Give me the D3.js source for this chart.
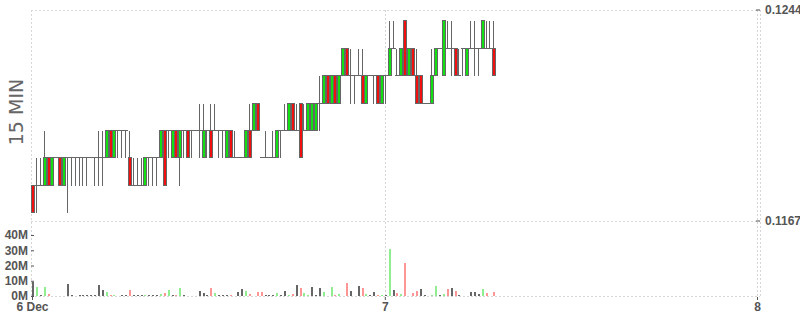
<!DOCTYPE html>
<html>
<head>
<meta charset="utf-8">
<script src="https://cdn.jsdelivr.net/npm/d3@7"></script>
<style>
    body { margin: 0; background: #fff; }
    svg { display: block; font-family: "DejaVu Sans", Verdana, sans-serif; }
</style>
</head>
<body>
<div class="chart"></div>
<script>
// 15 minute candles, first one at 6 Dec 01:15
const startTime = new Date(2021, 11, 6, 1, 15);
const endTime = new Date(2021, 11, 8, 0, 0);

const opens = [
    0.118,0.118,0.118,0.118,0.119,0.118,0.119,0.119,0.118,0.119,
    0.119,0.119,0.119,0.119,0.119,0.119,0.119,0.119,0.119,0.119,
    0.120,0.119,0.120,0.120,0.120,0.119,0.118,0.118,0.118,0.118,
    0.119,0.119,0.119,0.119,0.120,0.120,0.119,0.120,0.119,0.120,
    0.120,0.120,0.120,0.120,0.119,0.120,0.120,0.120,0.120,0.120,
    0.119,0.120,0.119,0.119,0.119,0.119,0.120,0.120,0.121,0.119,
    0.119,0.119,0.119,0.119,0.120,0.120,0.120,0.121,0.120,0.121,
    0.120,0.120,0.120,0.120,0.121,0.121,0.122,0.121,0.122,0.121,
    0.122,0.123,0.122,0.122,0.122,0.122,0.121,0.122,0.122,0.122,
    0.121,0.122,0.122,0.123,0.122,0.122,0.124,0.122,0.123,0.122,
    0.122,0.121,0.121,0.121,0.122,0.123,0.122,0.123,0.123,0.123,
    0.122,0.123,0.122,0.123,0.123,0.123,0.123,0.123,0.123,0.123
];
const highs = [
    0.118,0.119,0.119,0.120,0.119,0.119,0.119,0.119,0.119,0.119,
    0.119,0.119,0.119,0.119,0.119,0.119,0.119,0.120,0.120,0.120,
    0.120,0.120,0.120,0.120,0.120,0.120,0.119,0.119,0.119,0.119,
    0.119,0.119,0.119,0.120,0.120,0.120,0.120,0.120,0.120,0.120,
    0.120,0.120,0.120,0.121,0.121,0.120,0.121,0.121,0.120,0.120,
    0.120,0.120,0.120,0.119,0.119,0.120,0.121,0.121,0.121,0.119,
    0.120,0.119,0.120,0.120,0.120,0.121,0.121,0.121,0.121,0.121,
    0.121,0.121,0.121,0.121,0.122,0.122,0.122,0.122,0.122,0.122,
    0.123,0.123,0.123,0.122,0.123,0.123,0.122,0.122,0.122,0.122,
    0.122,0.122,0.124,0.124,0.123,0.123,0.124,0.123,0.123,0.123,
    0.122,0.121,0.121,0.123,0.123,0.123,0.124,0.124,0.124,0.123,
    0.123,0.123,0.123,0.124,0.124,0.123,0.124,0.124,0.124,0.124
];
const lows = [
    0.117,0.117,0.118,0.118,0.118,0.118,0.119,0.118,0.118,0.117,
    0.118,0.118,0.118,0.118,0.118,0.119,0.118,0.118,0.118,0.119,
    0.119,0.119,0.119,0.119,0.119,0.118,0.118,0.118,0.118,0.118,
    0.118,0.118,0.118,0.119,0.118,0.119,0.119,0.119,0.118,0.119,
    0.119,0.119,0.120,0.119,0.119,0.119,0.119,0.120,0.119,0.119,
    0.119,0.119,0.119,0.119,0.119,0.119,0.119,0.120,0.120,0.119,
    0.119,0.119,0.119,0.119,0.119,0.120,0.120,0.120,0.120,0.119,
    0.120,0.120,0.120,0.120,0.120,0.121,0.121,0.121,0.121,0.121,
    0.122,0.122,0.121,0.121,0.122,0.121,0.121,0.122,0.121,0.121,
    0.121,0.121,0.122,0.123,0.122,0.122,0.122,0.122,0.122,0.121,
    0.121,0.121,0.121,0.121,0.122,0.123,0.122,0.123,0.122,0.122,
    0.122,0.122,0.122,0.123,0.122,0.122,0.123,0.123,0.123,0.122
];
const closes = [
    0.117,0.118,0.118,0.119,0.118,0.119,0.119,0.118,0.119,0.119,
    0.119,0.119,0.119,0.119,0.119,0.119,0.119,0.119,0.119,0.120,
    0.119,0.120,0.120,0.120,0.120,0.118,0.118,0.118,0.118,0.119,
    0.119,0.119,0.119,0.120,0.118,0.120,0.120,0.119,0.120,0.120,
    0.119,0.120,0.120,0.120,0.120,0.120,0.119,0.120,0.120,0.120,
    0.120,0.119,0.119,0.119,0.119,0.120,0.119,0.121,0.120,0.119,
    0.119,0.119,0.119,0.120,0.120,0.120,0.121,0.120,0.120,0.119,
    0.120,0.121,0.121,0.121,0.121,0.122,0.121,0.122,0.121,0.122,
    0.123,0.122,0.122,0.122,0.122,0.121,0.122,0.122,0.122,0.121,
    0.122,0.122,0.123,0.123,0.122,0.123,0.122,0.123,0.122,0.121,
    0.121,0.121,0.121,0.122,0.123,0.123,0.124,0.123,0.123,0.122,
    0.122,0.123,0.123,0.123,0.123,0.123,0.124,0.123,0.123,0.122
];
// volume in millions
const volumes = [
    9.4,6.1,0.9,6.1,1.3,0.3,0.2,0.2,0.2,7.9,
    0.6,0.2,0.5,0.6,0.5,0.5,0.6,7.2,3.9,2.6,
    0.4,0.4,0.3,0.6,0.4,3.9,0.6,0.4,0.6,0.7,
    0.5,0.4,0.4,1.3,2.2,3.9,0.6,0.4,5.0,0.7,
    0.3,0.2,0.2,3.3,2.0,0.4,5.0,1.7,0.9,0.4,
    0.4,0.4,0.3,2.8,4.6,3.3,1.3,0.3,2.4,2.6,
    0.6,0.4,0.4,1.7,0.9,3.3,0.4,1.3,7.2,5.2,
    2.0,0.7,5.7,0.6,5.2,2.8,0.3,5.7,0.6,1.3,
    0.3,8.7,3.5,0.3,6.6,5.2,1.3,0.7,2.6,0.5,
    0.7,0.4,30.8,3.9,2.0,1.3,21.6,0.3,2.0,3.3,
    4.6,0.7,0.2,0.7,6.6,0.7,1.3,4.6,5.2,3.3,
    0.7,0.3,0.3,2.6,2.6,1.3,4.6,2.0,0.3,2.6
];

const priceTicks = [0.1167, 0.1244];
const volumeTicks = [0, 10, 20, 30, 40];
const dayTicks = [startTime, new Date(2021, 11, 7), new Date(2021, 11, 8)];
const dayLabels = ["6 Dec", "7", "8"];
const panelLabel = "15 MIN";

function init() {
    const w = 800;
    const h = 315;
    const left = 31;
    const right = 760;

    const x = d3.scaleTime().domain([startTime, endTime]).range([32, 757]);
    const y = d3.scaleLinear().domain([0.1167, 0.1244]).range([220.5, 9.5]);
    const yv = d3.scaleLinear().domain([0, 40]).range([296, 235]);

    const candles = opens.map((o, i) => ({
        t: d3.timeMinute.offset(startTime, 15 * i),
        o: o, h: highs[i], l: lows[i], c: closes[i], v: volumes[i],
        prev: i > 0 ? closes[i - 1] : null
    }));

    const svg = d3.select(".chart")
        .append("svg")
        .attr("width", w)
        .attr("height", h);

    const px = v => Math.round(v) + 0.5;

    // dashed grid
    const grid = svg.append("g")
        .attr("stroke", "#d6d6d6")
        .attr("stroke-dasharray", "2,2")
        .attr("shape-rendering", "crispEdges");
    [y(0.1244), y(0.1167), yv(0)].forEach(v => {
        grid.append("line").attr("x1", left).attr("x2", right)
            .attr("y1", px(v)).attr("y2", px(v));
    });
    [left, x(dayTicks[1]), x(dayTicks[2]), right].forEach(v => {
        grid.append("line").attr("x1", px(v)).attr("x2", px(v))
            .attr("y1", 10).attr("y2", 297);
    });

    // volume bars
    svg.append("g")
        .attr("shape-rendering", "crispEdges")
        .selectAll("rect")
        .data(candles)
        .enter()
        .append("rect")
        .attr("x", d => Math.round(x(d.t)))
        .attr("width", 2)
        .attr("y", d => yv(d.v))
        .attr("height", d => yv(0) - yv(d.v))
        .attr("fill", d => d.prev === null || d.c === d.prev ? "#666" : (d.c > d.prev ? "#90ee90" : "#ff9696"));

    // candles
    const cg = svg.append("g")
        .attr("stroke", "#666")
        .attr("stroke-width", 1)
        .attr("shape-rendering", "crispEdges");

    const candle = cg.selectAll("g")
        .data(candles)
        .enter()
        .append("g");

    candle.append("line")
        .attr("x1", d => Math.round(x(d.t)) + 0.5)
        .attr("x2", d => Math.round(x(d.t)) + 0.5)
        .attr("y1", d => px(y(d.h)))
        .attr("y2", d => px(y(d.l)));

    candle.filter(d => d.o !== d.c)
        .append("rect")
        .attr("x", d => Math.round(x(d.t)) - 0.5)
        .attr("width", 3)
        .attr("y", d => px(y(Math.max(d.o, d.c))))
        .attr("height", d => px(y(Math.min(d.o, d.c))) - px(y(Math.max(d.o, d.c))))
        .attr("fill", d => d.c > d.o ? "#12e012" : "#f01010");

    candle.filter(d => d.o === d.c)
        .append("line")
        .attr("x1", d => Math.round(x(d.t)) - 1)
        .attr("x2", d => Math.round(x(d.t)) + 3)
        .attr("y1", d => px(y(d.o)))
        .attr("y2", d => px(y(d.o)));

    // axes
    const styleAxis = g => {
        g.select(".domain").remove();
        g.selectAll(".tick line").attr("stroke", "#555");
        g.selectAll(".tick text")
            .attr("fill", "#555")
            .attr("font-size", 12)
            .attr("font-weight", "bold")
            .attr("font-family", "Liberation Sans, Arial, sans-serif");
    };

    svg.append("g")
        .attr("transform", "translate(0,297)")
        .call(d3.axisBottom(x).tickValues(dayTicks)
            .tickFormat((d, i) => dayLabels[i]).tickSize(3).tickPadding(2))
        .call(styleAxis);

    svg.append("g")
        .attr("transform", "translate(756,0)")
        .call(d3.axisRight(y).tickValues(priceTicks)
            .tickFormat(d3.format(".4f")).tickSize(4).tickPadding(5))
        .call(styleAxis);

    svg.append("g")
        .attr("transform", "translate(31,0)")
        .call(d3.axisLeft(yv).tickValues(volumeTicks)
            .tickFormat(d => d + "M").tickSize(-3).tickPadding(3))
        .call(styleAxis);

    svg.append("text")
        .attr("transform", "translate(23,112) rotate(-90)")
        .attr("text-anchor", "middle")
        .attr("font-size", 19)
        .attr("fill", "#666")
        .text(panelLabel);
}

window.onload = init;
</script>
</body>
</html>
